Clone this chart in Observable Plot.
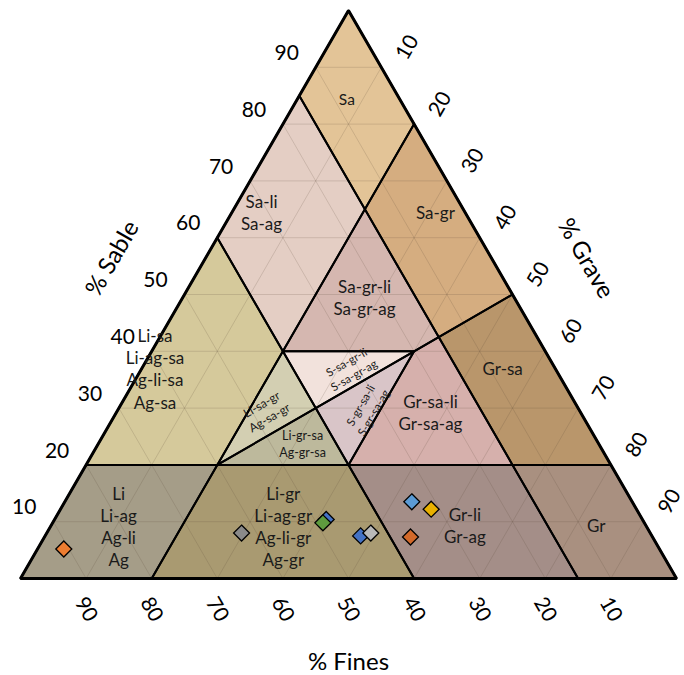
<!DOCTYPE html>
<html><head><meta charset="utf-8">
<script src="https://cdn.jsdelivr.net/npm/d3@7"></script>
<script src="https://cdn.jsdelivr.net/npm/@observablehq/plot@0.6"></script>
<style>html,body{margin:0;padding:0;background:#fff;}</style>
</head><body><div id="chart"></div>
<script>
// ---- Data (percent: [Sable, Grave]; Fines = 100 - Sable - Grave) ----
const regionNames = ["Sa","Sa-li","Sa-gr","Li-sa","Sa-gr-li","Gr-sa","Li-sa-gr","Li-gr-sa","S-sa-gr-li","S-gr-sa-li","Gr-sa-li","Li","Li-gr","Gr-li","Gr"];
const regionVertices = [
  [[100,0],[85,0],[65,20],[80,20]],
  [[85,0],[60,0],[40,20],[65,20]],
  [[80,20],[65,20],[42.5,42.5],[50,50]],
  [[60,0],[20,0],[20,20],[40,20]],
  [[65,20],[40,20],[40,40],[42.5,42.5]],
  [[50,50],[42.5,42.5],[20,65],[20,80]],
  [[40,20],[20,20],[30,30]],
  [[20,20],[20,40],[30,30]],
  [[40,20],[40,40],[30,30]],
  [[40,40],[20,40],[30,30]],
  [[40,40],[42.5,42.5],[20,65],[20,40]],
  [[20,0],[0,0],[0,20],[20,20]],
  [[20,20],[0,20],[0,60],[20,40]],
  [[20,40],[0,60],[0,85],[20,65]],
  [[20,65],[0,85],[0,100],[20,80]]
];
const regionColors = ["#E3C497","#E4CEC4","#D5AD80","#D5C99B","#D5B7B0","#B9966B","#D3CFB2","#BDB99C","#F2E2DC","#D9C5C8","#D6B0AC","#A59D88","#A99A71","#A48E88","#A99080"];
const regionLabels = ["Sa","Sa-li\nSa-ag","Sa-gr","Li-sa\nLi-ag-sa\nAg-li-sa\nAg-sa","Sa-gr-li\nSa-gr-ag","Gr-sa","Li-sa-gr\nAg-sa-gr","Li-gr-sa\nAg-gr-sa","S-sa-gr-li\nS-sa-gr-ag","S-gr-sa-li\nS-gr-sa-ag","Gr-sa-li\nGr-sa-ag","Li\nLi-ag\nAg-li\nAg","Li-gr\nLi-ag-gr\nAg-li-gr\nAg-gr","Gr-li\nGr-ag","Gr"];
const labelSable = [84.5,64.5,64.5,37,49.5,37,29.6,23.8,37,29.9,29.4,9.3,9.3,9.5,9.5];
const labelGrave = [7.5,4.5,31,2,27.7,55,22.5,31.1,31.7,37.8,47.8,10.3,35.4,63,83];
const labelRotate = [0,0,0,0,0,0,-30,0,-30,-60,0,0,0,0,0];
const labelSize = [15.5,17,17,17,17,17,12,12.5,11.5,11.5,17,17,17,17,17];

const pointSable = [5.2, 8, 10.4, 9.8, 7.5, 8, 13.5, 12.2, 7.3];
const pointGrave = [4, 29.7, 41.4, 41.2, 48.1, 49.4, 52.9, 56.5, 55.8];
const pointColor = ["#ED7D31","#8A8A8A","#4472C4","#5E9B3E","#4472C4","#B9B9B9","#5B9BD5","#E8B000","#D2692A"];

const tickValues = [10,20,30,40,50,60,70,80,90];
const tickLabels = ["10","20","30","40","50","60","70","80","90"];
const axisTitles = ["% Sable","% Grave","% Fines"];

// ---- ternary -> cartesian (x = G + S/2, y = S) ----
const px = (s, g) => g/100 + s/200;
const py = (s) => s/100;

const polys = [];
regionVertices.forEach((vs, i) => vs.forEach(([s,g]) => polys.push({region: regionNames[i], fill: regionColors[i], x: px(s,g), y: py(s)})));

const grid = [];
tickValues.forEach(k => {
  grid.push({x1: px(k,0), y1: py(k), x2: px(k,100-k), y2: py(k)});          // Sable const
  grid.push({x1: px(0,k), y1: py(0), x2: px(100-k,k), y2: py(100-k)});      // Grave const
  grid.push({x1: px(0,100-k), y1: py(0), x2: px(100-k,0), y2: py(100-k)}); // Fines const
});

const outline = [[100,0],[0,0],[0,100]].map(([s,g]) => ({x: px(s,g), y: py(s)}));

const labels = regionLabels.map((t,i) => ({text: t, x: px(labelSable[i],labelGrave[i]), y: py(labelSable[i]), rotate: labelRotate[i], size: labelSize[i]}));

const points = pointSable.map((s,i) => ({x: px(s,pointGrave[i]), y: py(s), color: pointColor[i]}));

const sableTicks = tickValues.map((v,i) => ({x: px(v,0), y: py(v), text: tickLabels[i]}));
const graveTicks = tickValues.map((v,i) => ({x: px(100-v,v), y: py(100-v), text: tickLabels[i]}));
const finesTicks = tickValues.map((v,i) => ({x: px(0,100-v), y: py(0), text: tickLabels[i]}));

const chart = Plot.plot({
  width: 684, height: 675, margin: 0,
  x: {domain: [0,1], range: [20,676], axis: null},
  y: {domain: [0,1], range: [578,10], axis: null},
  color: {type: "identity"},
  style: {fontFamily: "Lato, 'Open Sans', sans-serif", background: "#fff"},
  marks: [
    Plot.line(polys, {x: "x", y: "y", z: "region", fill: "fill", stroke: "none", curve: "linear-closed"}),
    Plot.link(grid, {x1: "x1", y1: "y1", x2: "x2", y2: "y2", stroke: "#5a4a3a", strokeOpacity: 0.18, strokeWidth: 1}),
    Plot.line(polys, {x: "x", y: "y", z: "region", stroke: "#000", strokeWidth: 2, curve: "linear-closed", strokeLinejoin: "round"}),
    Plot.line(outline, {x: "x", y: "y", stroke: "#000", strokeWidth: 3, curve: "linear-closed", strokeLinejoin: "miter"}),
    Plot.text(labels, {x: "x", y: "y", text: "text", rotate: "rotate", fontSize: d => d.size, lineHeight: 1.3, fill: "#1a1a1a"}),
    Plot.dot(points, {x: "x", y: "y", fill: "color", stroke: "#000", strokeWidth: 1.3, symbol: "diamond2", r: 7.2}),
    Plot.text(sableTicks, {x: "x", y: "y", text: "text", dx: -29, dy: -14, fontSize: 21, fill: "#000"}),
    Plot.text(graveTicks, {x: "x", y: "y", text: "text", dx: 26, dy: -20, rotate: -60, fontSize: 21, fill: "#000"}),
    Plot.text(finesTicks, {x: "x", y: "y", text: "text", dx: 0, dy: 31, rotate: 60, fontSize: 21, fill: "#000"}),
    Plot.text([{x: px(50,0), y: py(50), text: axisTitles[0]}], {x: "x", y: "y", text: "text", dx: -72, dy: -36, rotate: -60, fontSize: 24, fill: "#000"}),
    Plot.text([{x: px(50,50), y: py(50), text: axisTitles[1]}], {x: "x", y: "y", text: "text", dx: 73, dy: -36, rotate: 60, fontSize: 24, fill: "#000"}),
    Plot.text([{x: px(0,50), y: py(0), text: axisTitles[2]}], {x: "x", y: "y", text: "text", dx: 0, dy: 84, fontSize: 24, fill: "#000"})
  ]
});
document.getElementById("chart").appendChild(chart);
</script>
</body></html>
